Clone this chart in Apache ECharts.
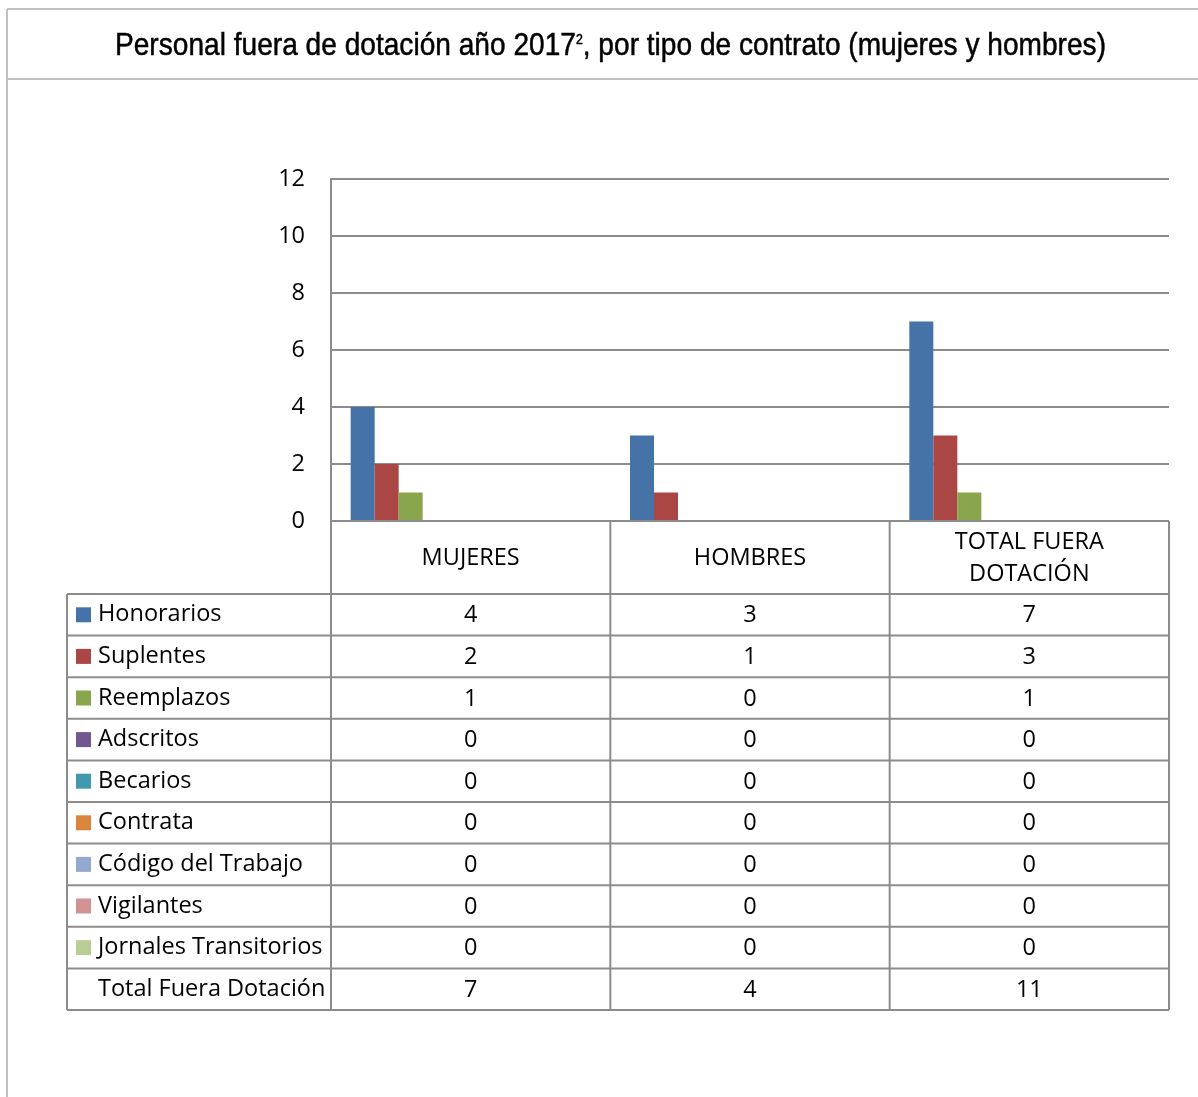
<!DOCTYPE html>
<html><head><meta charset="utf-8">
<script src="https://cdn.jsdelivr.net/npm/echarts/dist/echarts.min.js"></script>
<style>html,body{margin:0;padding:0;background:#fff}#c{width:1198px;height:1097px}</style>
</head><body><div id="c"></div>
<script>
// ---- data ----
const categories = ['MUJERES', 'HOMBRES', 'TOTAL FUERA\nDOTACIÓN'];
const seriesNames = ['Honorarios', 'Suplentes', 'Reemplazos', 'Adscritos', 'Becarios', 'Contrata', 'Código del Trabajo', 'Vigilantes', 'Jornales Transitorios', 'Total Fuera Dotación'];
const honorarios = [4, 3, 7];
const suplentes = [2, 1, 3];
const reemplazos = [1, 0, 1];
const adscritos = [0, 0, 0];
const becarios = [0, 0, 0];
const contrata = [0, 0, 0];
const codigoTrabajo = [0, 0, 0];
const vigilantes = [0, 0, 0];
const jornales = [0, 0, 0];
const totalFuera = [7, 4, 11];
const seriesValues = [honorarios, suplentes, reemplazos, adscritos, becarios, contrata, codigoTrabajo, vigilantes, jornales, totalFuera];
const seriesColors = ['#4572A7', '#AA4643', '#89A54E', '#71588F', '#4198AF', '#DB843D', '#93A9CF', '#D19392', '#B9CD96', 'rgba(0,0,0,0)'];
const yMin = 0, yMax = 12, yStep = 2;
const titleMain = 'Personal fuera de dotación año 2017';
const titleSup = '2';
const titleRest = ', por tipo de contrato (mujeres y hombres)';

// ---- layout ----
const FAM = '"Open Sans", Lato, sans-serif';
const TFAM = '"Liberation Sans", Arial, sans-serif';
const W = 1198, H = 1097;
const gL = 331, gR = 1169, gT = 179, gB = 521;
const headB = 594, rowH = 41.6, tabL = 67;
const LINE = '#8c8c8c', FRAME = '#c0c0c0';
const colW = (gR - gL) / categories.length;

const mctx = document.createElement('canvas').getContext('2d');
function mw(font, s) { mctx.font = font; return mctx.measureText(s).width; }
// font size so the longest row label is as wide as in the reference
let FS = 22 * 225 / mw('22px ' + FAM, seriesNames[9]);
FS = Math.round(FS * 2) / 2;
// title: regular sans squeezed horizontally (narrow face)
const TS = 32, TSS = 14;
const tW = mw(TS + 'px ' + TFAM, titleMain + titleRest) + mw(TSS + 'px ' + TFAM, titleSup);
const tScale = 991 / tW;

const graphics = [];
function hline(x1, x2, y, c, w) { graphics.push({type: 'line', shape: {x1, y1: y, x2, y2: y}, style: {stroke: c, lineWidth: w}, z: 10}); }
function vline(x, y1, y2, c, w) { graphics.push({type: 'line', shape: {x1: x, y1, x2: x, y2}, style: {stroke: c, lineWidth: w}, z: 10}); }
function txt(x, y, s, align) {
  graphics.push({type: 'text', x, y, style: {text: s, fill: '#000', font: FS + 'px ' + FAM, align: align, verticalAlign: 'middle', lineHeight: 32}, z: 11});
}
// outer frame
hline(7, W, 9, FRAME, 2);
hline(7, W, 79, FRAME, 2);
vline(7, 9, H, FRAME, 2);
// title
graphics.push({
  type: 'text', x: 115, y: 46, scaleX: tScale, z: 11,
  style: {
    text: '{a|' + titleMain + '}{s|' + titleSup + '}{a|' + titleRest + '}',
    verticalAlign: 'middle', align: 'left',
    stroke: '#000', lineWidth: 0.5,
    rich: {
      a: {fontFamily: TFAM, fontSize: TS, fill: '#000', stroke: '#000', lineWidth: 0.5, fontWeight: 'normal', verticalAlign: 'bottom'},
      s: {fontFamily: TFAM, fontSize: TSS, fill: '#000', fontWeight: 'normal', verticalAlign: 'top', padding: [3, 0, 0, 0]}
    }
  }
});
// table grid
hline(gL, gR, gB, LINE, 2);
for (let i = 0; i <= seriesNames.length; i++) hline(tabL, gR, headB + i * rowH, LINE, 2);
for (let k = 0; k <= categories.length; k++) vline(gL + k * colW, gB, headB + seriesNames.length * rowH, LINE, 2);
vline(tabL, headB, headB + seriesNames.length * rowH, LINE, 2);
// header labels
categories.forEach((c, k) => txt(gL + (k + 0.5) * colW, (gB + headB) / 2 + 1, c, 'center'));
// values
seriesValues.forEach((arr, i) => arr.forEach((v, k) => txt(gL + (k + 0.5) * colW, headB + (i + 0.5) * rowH + 1, String(v), 'center')));

const chart = echarts.init(document.getElementById('c'), null, {renderer: 'canvas'});
chart.setOption({
  backgroundColor: '#fff',
  animation: false,
  legend: {
    orient: 'vertical', left: 76, top: headB + rowH / 2 - 12,
    itemWidth: 15, itemHeight: 15, itemGap: rowH - 24, padding: 0,
    icon: 'rect', selectedMode: false,
    data: seriesNames,
    textStyle: {fontFamily: FAM, fontSize: FS, color: '#000', lineHeight: 24, padding: [0, 0, 0, 2]}
  },
  grid: {left: gL, right: W - gR, top: gT, bottom: H - gB},
  xAxis: {
    type: 'category', data: categories,
    axisLine: {show: false}, axisTick: {show: false}, axisLabel: {show: false}
  },
  yAxis: {
    type: 'value', min: yMin, max: yMax, interval: yStep,
    axisLine: {show: true, lineStyle: {color: LINE, width: 2}},
    axisTick: {show: false},
    axisLabel: {fontFamily: FAM, fontSize: FS, color: '#000', margin: 26, padding: [3, 0, 0, 0]},
    splitLine: {lineStyle: {color: LINE, width: 2}}
  },
  series: seriesNames.map((n, i) => ({
    name: n, type: 'bar', data: seriesValues[i], barWidth: 24, barGap: '0%',
    itemStyle: {color: seriesColors[i]}
  })),
  graphic: graphics
});
</script>
</body></html>
